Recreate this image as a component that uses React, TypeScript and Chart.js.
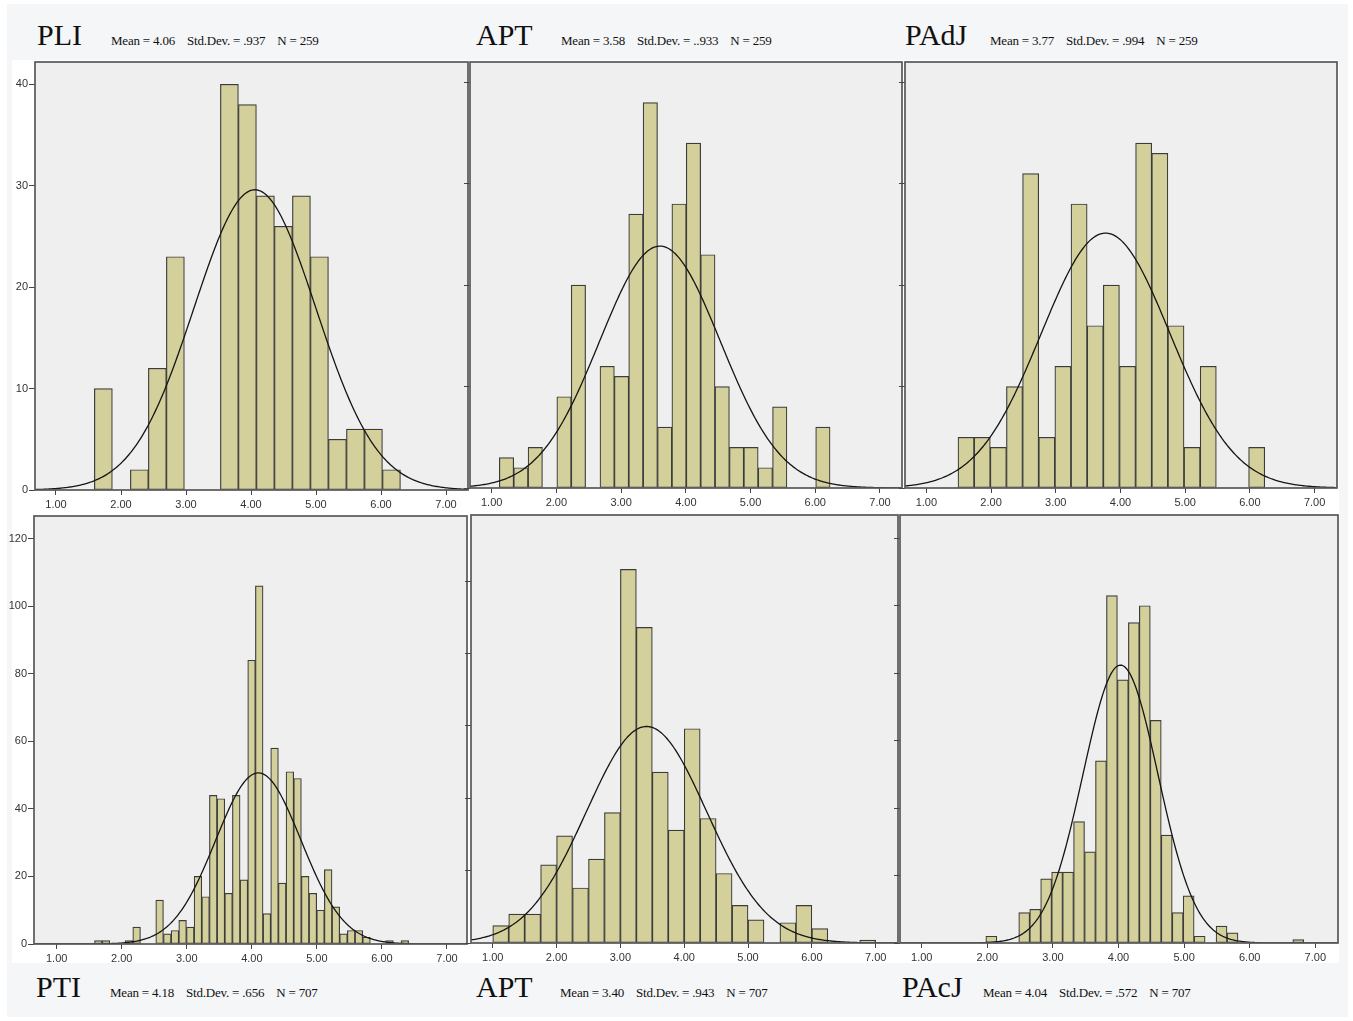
import React, { useEffect, useRef } from "react";
import { Chart, registerables } from "chart.js";

Chart.register(...registerables);

// ---------- data ----------
const panelNames = ["PLI", "APT", "PAdJ", "PTI", "APT", "PAcJ"];
const meanLabels = ["4.06", "3.58", "3.77", "4.18", "3.40", "4.04"];
const sdLabels = [".937", "..933", ".994", ".656", ".943", ".572"];
const nLabels = ["259", "259", "259", "707", "707", "707"];

const pliCounts = [10, 0, 2, 12, 23, 0, 0, 40, 38, 29, 26, 29, 23, 5, 6, 6, 2];
const aptTopCounts = [3, 2, 4, 0, 9, 20, 0, 12, 11, 27, 38, 6, 28, 34, 23, 10, 4, 4, 2, 8, 0, 0, 6];
const padjCounts = [5, 5, 4, 10, 31, 5, 12, 28, 16, 20, 12, 34, 33, 16, 4, 12, 0, 0, 4];
const ptiCounts = [
  1, 1, 0, 0, 1, 5, 0, 0, 13, 3, 4, 7, 5, 20, 14, 44, 43, 15, 44, 19, 84, 106, 9, 58, 18, 51, 49,
  20, 15, 10, 22, 11, 3, 4, 4, 2, 0, 0, 1, 0, 1,
];
const aptBottomCounts = [6, 10, 10, 27, 37, 19, 29, 45, 129, 109, 59, 39, 74, 43, 24, 13, 8, 0, 7, 13, 5, 0, 0, 1];
const pacjCounts = [2, 0, 0, 9, 10, 19, 21, 21, 36, 27, 54, 103, 78, 95, 100, 66, 32, 9, 14, 2, 0, 5, 3, 0, 0, 0, 0, 0, 1];

const allCounts = [pliCounts, aptTopCounts, padjCounts, ptiCounts, aptBottomCounts, pacjCounts];
const binStarts = [1.59, 1.118, 1.489, 1.581, 1.0, 1.978];
const binWidths = [0.277, 0.2222, 0.2495, 0.1178, 0.25, 0.1671];

// normal curve overlay parameters (as drawn)
const curveMeans = [4.06, 3.6, 3.77, 4.1, 3.41, 4.03];
const curveSds = [0.937, 0.933, 0.994, 0.656, 0.943, 0.572];

const xTickValues = [1, 2, 3, 4, 5, 6, 7];
const yTicksTop = [0, 10, 20, 30, 40];
const yTicksPti = [0, 20, 40, 60, 80, 100, 120];
const yTicksAptBottom = [0, 25, 50, 75, 100, 125];
const yTicksPacj = [0, 20, 40, 60, 80, 100, 120];
const allYTicks = [yTicksTop, yTicksTop, yTicksTop, yTicksPti, yTicksAptBottom, yTicksPacj];

// ---------- layout (positions / axis ranges) ----------
type Layout = {
  left: number; top: number; w: number; h: number;
  xMin: number; xMax: number; yMax: number; showY: boolean;
};
const layouts: Layout[] = [
  { left: 35, top: 62, w: 433, h: 428, xMin: 0.677, xMax: 7.338, yMax: 42.2, showY: true },
  { left: 470, top: 62, w: 432, h: 426, xMin: 0.665, xMax: 7.34, yMax: 42.0, showY: false },
  { left: 904.5, top: 62, w: 432, h: 426, xMin: 0.67, xMax: 7.346, yMax: 42.0, showY: false },
  { left: 33.5, top: 516, w: 432.5, h: 427.5, xMin: 0.651, xMax: 7.308, yMax: 126.7, showY: true },
  { left: 471, top: 515, w: 426.5, h: 427.5, xMin: 0.659, xMax: 7.35, yMax: 147.8, showY: false },
  { left: 900, top: 515, w: 437.5, h: 427.5, xMin: 0.669, xMax: 7.346, yMax: 126.9, showY: false },
];

const titlePos = [
  { tx: 37, sx: 111, base: 45 },
  { tx: 476, sx: 561, base: 45 },
  { tx: 905, sx: 990, base: 45 },
  { tx: 36, sx: 110, base: 997 },
  { tx: 476, sx: 560, base: 997 },
  { tx: 902, sx: 983, base: 997 },
];

const SANS = "'Liberation Sans', Arial, sans-serif";
const SERIF = "'Liberation Serif', 'Times New Roman', serif";

const boxPlugin = {
  id: "spssBox",
  beforeDraw(chart: any) {
    const { ctx, chartArea: a } = chart;
    ctx.save();
    ctx.fillStyle = "#efefef";
    ctx.fillRect(a.left, a.top, a.right - a.left, a.bottom - a.top);
    ctx.restore();
  },
  afterDatasetsDraw(chart: any) {
    const { ctx, chartArea: a } = chart;
    ctx.save();
    ctx.strokeStyle = "#585858";
    ctx.lineWidth = 1.7;
    ctx.strokeRect(a.left, a.top, a.right - a.left, a.bottom - a.top);
    ctx.restore();
  },
};

function HistPanel({ idx }: { idx: number }) {
  const ref = useRef<HTMLCanvasElement | null>(null);
  const lay = layouts[idx];
  const L = lay.showY ? 30 : 8;
  const B = 22;
  const PAD = 2;
  const cw = Math.round(lay.w + L + PAD);
  const ch = Math.round(lay.h + B + PAD);

  useEffect(() => {
    if (!ref.current) return;
    const counts = allCounts[idx];
    const start = binStarts[idx];
    const bw = binWidths[idx];
    const bars = counts.map((c, i) => ({ x: start + (i + 0.5) * bw, y: c }));
    const n = counts.reduce((s, v) => s + v, 0);
    const m = curveMeans[idx];
    const sd = curveSds[idx];
    const k = (n * bw) / (sd * Math.sqrt(2 * Math.PI));
    const curve: { x: number; y: number }[] = [];
    for (let x = lay.xMin; x <= lay.xMax + 1e-9; x += 0.02) {
      curve.push({ x, y: k * Math.exp(-0.5 * ((x - m) / sd) ** 2) });
    }
    const yTicks = allYTicks[idx];

    const chart = new Chart(ref.current, {
      type: "bar",
      data: {
        datasets: [
          {
            type: "line",
            data: curve,
            borderColor: "#151515",
            borderWidth: 1.3,
            pointRadius: 0,
            tension: 0,
            fill: false,
          } as any,
          {
            type: "bar",
            data: bars,
            backgroundColor: "#d4d09b",
            borderColor: "#3c3c3c",
            borderWidth: 1.2,
            borderSkipped: false,
            barPercentage: 1,
            categoryPercentage: 1,
          } as any,
        ],
      },
      options: {
        responsive: false,
        devicePixelRatio: 1,
        animation: false,
        events: [],
        layout: { padding: { top: PAD, right: PAD, left: 0, bottom: 0 } },
        plugins: { legend: { display: false }, tooltip: { enabled: false }, title: { display: false } },
        scales: {
          x: {
            type: "linear",
            min: lay.xMin,
            max: lay.xMax,
            offset: false,
            afterBuildTicks: (s: any) => {
              s.ticks = xTickValues.map((v) => ({ value: v }));
            },
            afterFit: (s: any) => {
              s.height = B;
              s.paddingLeft = 0;
              s.paddingRight = 0;
            },
            grid: {
              display: true,
              drawOnChartArea: false,
              drawTicks: true,
              tickLength: 5,
              color: "#444",
              offset: false,
            },
            border: { display: false },
            ticks: {
              autoSkip: false,
              maxRotation: 0,
              padding: 3,
              color: "#333",
              font: { family: SANS, size: 11 },
              callback: (v: any) => Number(v).toFixed(2),
            },
          },
          y: {
            type: "linear",
            min: 0,
            max: lay.yMax,
            afterBuildTicks: (s: any) => {
              s.ticks = yTicks.map((v) => ({ value: v }));
            },
            afterFit: (s: any) => {
              s.width = L;
              s.paddingTop = 0;
              s.paddingBottom = 0;
            },
            grid: {
              display: true,
              drawOnChartArea: false,
              drawTicks: true,
              tickLength: 6,
              color: "#444",
            },
            border: { display: false },
            ticks: {
              display: lay.showY,
              padding: 1,
              color: "#333",
              font: { family: SANS, size: 11 },
            },
          },
        },
      },
      plugins: [boxPlugin],
    });
    return () => chart.destroy();
  }, [idx]);

  return (
    <canvas
      ref={ref}
      width={cw}
      height={ch}
      style={{
        position: "absolute",
        left: lay.left - L,
        top: lay.top - PAD,
        width: cw,
        height: ch,
      }}
    />
  );
}

function PanelTitle({ idx }: { idx: number }) {
  const p = titlePos[idx];
  return (
    <>
      <div
        style={{
          position: "absolute",
          left: p.tx,
          top: p.base - 25,
          fontFamily: SERIF,
          fontSize: 30,
          lineHeight: "30px",
          color: "#111",
          whiteSpace: "nowrap",
        }}
      >
        {panelNames[idx]}
      </div>
      <div
        style={{
          position: "absolute",
          left: p.sx,
          top: p.base - 10.8,
          fontFamily: SERIF,
          fontSize: 13,
          lineHeight: "13px",
          letterSpacing: "-0.2px",
          color: "#111",
          whiteSpace: "nowrap",
          display: "flex",
          gap: 12,
        }}
      >
        <span>Mean = {meanLabels[idx]}</span>
        <span>Std.Dev. = {sdLabels[idx]}</span>
        <span>N = {nLabels[idx]}</span>
      </div>
    </>
  );
}

export default function App() {
  const idxs = [0, 1, 2, 3, 4, 5];
  return (
    <div
      style={{
        position: "absolute",
        left: 0,
        top: 0,
        width: 1353,
        height: 1021,
        background: "#ffffff",
        overflow: "hidden",
      }}
    >
      <div style={{ position: "absolute", left: 7, top: 4, width: 1341, height: 1013, background: "#f5f6f8" }} />
      <div style={{ position: "absolute", left: 12, top: 60, width: 1327, height: 903, background: "#ffffff" }} />
      {idxs.map((i) => (
        <HistPanel key={"c" + i} idx={i} />
      ))}
      {idxs.map((i) => (
        <PanelTitle key={"t" + i} idx={i} />
      ))}
    </div>
  );
}
